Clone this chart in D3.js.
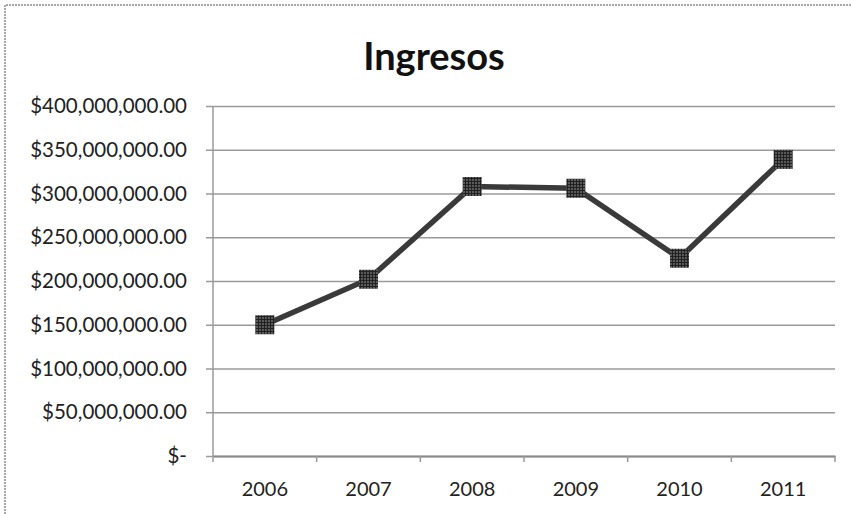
<!DOCTYPE html>
<html>
<head>
<meta charset="utf-8">
<script src="https://cdn.jsdelivr.net/npm/d3@7"></script>
<style>
  body { margin: 0; background: #fff; }
  text { font-family: Lato, "Open Sans", sans-serif; }
</style>
</head>
<body>
<svg width="851" height="514"></svg>
<script>
// Ingresos por año
const years = ["2006", "2007", "2008", "2009", "2010", "2011"]
const ingresos = [150000000, 202000000, 308000000, 306000000, 226000000, 339000000]
const yTicks = [0, 50000000, 100000000, 150000000, 200000000, 250000000, 300000000, 350000000, 400000000]

const svg = d3.select("svg")

const margin = {left: 213, right: 16, top: 106, bottom: 58}
const width = 851 - margin.left - margin.right
const height = 514 - margin.top - margin.bottom

// dither textures like the scanned original
const defs = svg.append("defs")
const grid = defs.append("pattern").attr("id", "grid")
  .attr("width", 3).attr("height", 3).attr("patternUnits", "userSpaceOnUse")
grid.append("rect").attr("width", 3).attr("height", 3).attr("fill", "#5a5a5a")
grid.append("rect").attr("width", 1).attr("height", 3).attr("fill", "#222")
grid.append("rect").attr("width", 3).attr("height", 1).attr("fill", "#222")

// frame (cut off on right and bottom)
svg.append("path")
  .attr("d", "M5,514 V5 H851")
  .attr("fill", "none")
  .attr("stroke", "#8a8a8a")
  .attr("stroke-width", 1.5)
  .attr("stroke-dasharray", "2,1")

svg.append("text")
  .attr("x", 434).attr("y", 70)
  .attr("text-anchor", "middle")
  .attr("font-size", 38)
  .attr("font-weight", "bold")
  .attr("fill", "#111")
  .text("Ingresos")

const g = svg.append("g").attr("transform", `translate(${margin.left},${margin.top})`)

const x = d3.scaleBand().domain(years).range([0, width])
const y = d3.scaleLinear().domain([0, 400000000]).range([height, 0])

const fmt = v => v === 0 ? "$-" : "$" + d3.format(",.2f")(v)

// gridlines + y axis
const yAxis = g.append("g")
  .call(d3.axisLeft(y).tickValues(yTicks).tickSize(-width).tickFormat(fmt).tickPadding(26))
yAxis.select(".domain").remove()
yAxis.selectAll(".tick line")
  .attr("x1", -7)
  .attr("stroke", "#9a9a9a")
  .attr("stroke-width", 1.5)
yAxis.selectAll(".tick text")
  .attr("font-size", 20.5)
  .attr("fill", "#222")

g.append("line")
  .attr("x1", 0).attr("x2", 0).attr("y1", 0).attr("y2", height)
  .attr("stroke", "#9a9a9a").attr("stroke-width", 1.5)

// x axis
const xAxis = g.append("g").attr("transform", `translate(0,${height})`)
  .call(d3.axisBottom(x).tickSize(0).tickPadding(26))
xAxis.select(".domain").attr("stroke", "#8a8a8a").attr("stroke-width", 2)
xAxis.selectAll(".tick text").attr("font-size", 20).attr("fill", "#222")

const bounds = years.map(d => x(d)).concat([width])
g.selectAll(".xtick").data(bounds).enter().append("line")
  .attr("x1", d => d).attr("x2", d => d)
  .attr("y1", height).attr("y2", height + 6)
  .attr("stroke", "#9a9a9a").attr("stroke-width", 1.5)

// series
const pts = years.map((d, i) => ({year: d, v: ingresos[i]}))
const line = d3.line()
  .x(d => x(d.year) + x.bandwidth() / 2)
  .y(d => y(d.v))

g.append("path")
  .datum(pts)
  .attr("d", line)
  .attr("fill", "none")
  .attr("stroke", "#3a3a3a")
  .attr("stroke-width", 5.5)

g.selectAll(".mark").data(pts).enter().append("rect")
  .attr("x", d => x(d.year) + x.bandwidth() / 2 - 9.5)
  .attr("y", d => y(d.v) - 9.5)
  .attr("width", 19).attr("height", 19)
  .attr("fill", "url(#grid)")
</script>
</body>
</html>
